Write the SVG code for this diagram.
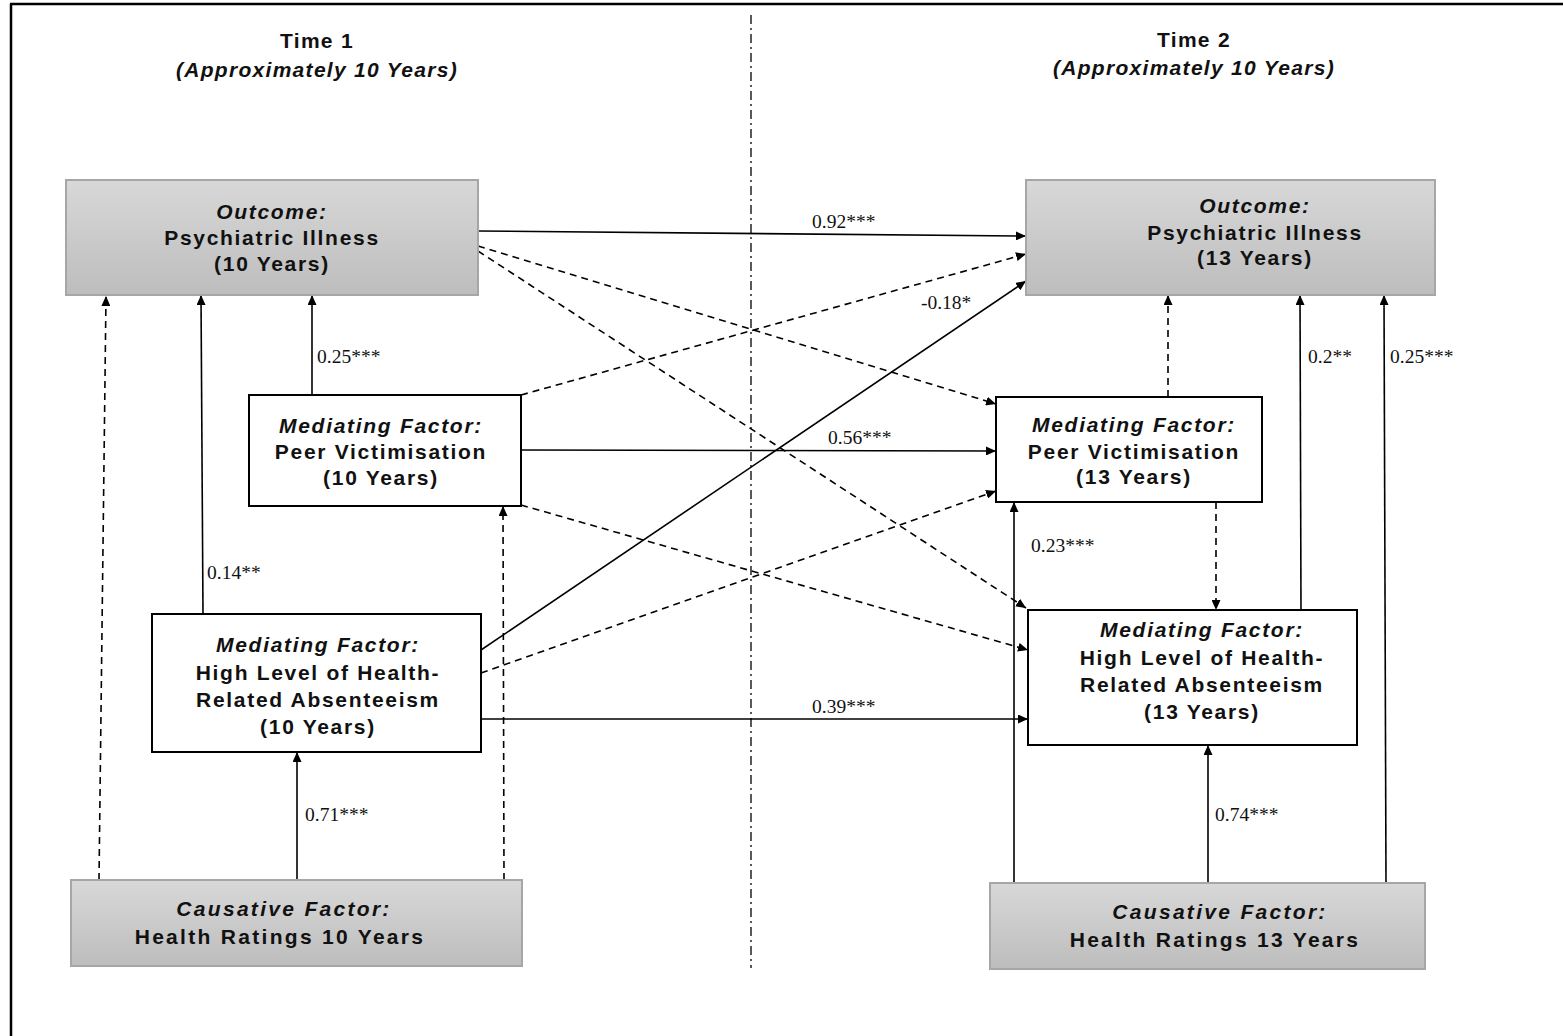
<svg xmlns="http://www.w3.org/2000/svg" width="1563" height="1036" viewBox="0 0 1563 1036">
<defs>
<linearGradient id="gray" x1="0" y1="0" x2="0" y2="1">
<stop offset="0" stop-color="#d8d8d8"/>
<stop offset="1" stop-color="#bdbdbd"/>
</linearGradient>
<marker id="arr" markerUnits="userSpaceOnUse" markerWidth="11" markerHeight="9" refX="10" refY="4.5" orient="auto">
<path d="M0,0 L10,4.5 L0,9 z" fill="#000"/>
</marker>
</defs>
<style>
.gbox{fill:url(#gray);stroke:#a6a6a6;stroke-width:2}
.wbox{fill:#fff;stroke:#000;stroke-width:2}
.t{font-family:"Liberation Sans",Arial,sans-serif;font-weight:bold;font-size:21px;letter-spacing:1.7px;fill:#111;text-anchor:middle}
.h{letter-spacing:1.3px}
.c{letter-spacing:2.3px}
.i{font-style:italic}
.lab{font-family:"Liberation Serif","Times New Roman",serif;font-size:19.5px;fill:#111}
.s{stroke:#000;stroke-width:1.6;fill:none;marker-end:url(#arr)}
.d{stroke:#000;stroke-width:1.6;fill:none;stroke-dasharray:7 5;marker-end:url(#arr)}
</style>
<rect width="1563" height="1036" fill="#fff"/>
<path d="M10,4 H1563 M11,4 V1036" stroke="#000" stroke-width="2.5" fill="none"/>
<line x1="751" y1="15" x2="751" y2="968" stroke="#000" stroke-width="1.3" stroke-dasharray="9 4 2 4"/>
<g id="headers">
<text class="t h" x="317" y="48">Time 1</text>
<text class="t h i" x="317" y="77">(Approximately 10 Years)</text>
<text class="t h" x="1194" y="47">Time 2</text>
<text class="t h i" x="1194" y="75">(Approximately 10 Years)</text>
</g>
<g id="connectors">
<path class="s" d="M478,231 L1026,236"/>
<path class="d" d="M478,246 L996,404"/>
<path class="d" d="M478,251 L1026,608"/>
<path class="d" d="M521,395 L1026,254"/>
<path class="s" d="M521,450 L996,451"/>
<path class="d" d="M521,505 L1028,650"/>
<path class="s" d="M481,650 L1026,281"/>
<path class="d" d="M481,673 L996,491"/>
<path class="s" d="M481,719 L1028,719"/>
<path class="s" d="M312,395 L312,295"/>
<path class="s" d="M203,614 L201,295"/>
<path class="d" d="M99,880 L106,296"/>
<path class="s" d="M297,880 L297,752"/>
<path class="d" d="M504,880 L503,506"/>
<path class="d" d="M1168,397 L1168,295"/>
<path class="d" d="M1216,502 L1216,610"/>
<path class="s" d="M1301,610 L1300,295"/>
<path class="s" d="M1386,883 L1384,295"/>
<path class="s" d="M1208,883 L1208,745"/>
<path class="s" d="M1014,883 L1014,502"/>
<text class="lab" x="812" y="228">0.92***</text>
<text class="lab" x="921" y="309">-0.18*</text>
<text class="lab" x="828" y="444">0.56***</text>
<text class="lab" x="812" y="713">0.39***</text>
<text class="lab" x="317" y="363">0.25***</text>
<text class="lab" x="207" y="579">0.14**</text>
<text class="lab" x="305" y="821">0.71***</text>
<text class="lab" x="1031" y="552">0.23***</text>
<text class="lab" x="1215" y="821">0.74***</text>
<text class="lab" x="1308" y="363">0.2**</text>
<text class="lab" x="1390" y="363">0.25***</text>
</g>
<g id="outcome10">
<rect class="gbox" x="66" y="180" width="412" height="115"/>
<text class="t i" x="272" y="219">Outcome:</text>
<text class="t" x="272" y="245">Psychiatric Illness</text>
<text class="t" x="272" y="271">(10 Years)</text>
</g>
<g id="outcome13">
<rect class="gbox" x="1026" y="180" width="409" height="115"/>
<text class="t i" x="1255" y="213">Outcome:</text>
<text class="t" x="1255" y="240">Psychiatric Illness</text>
<text class="t" x="1255" y="265">(13 Years)</text>
</g>
<g id="peer10">
<rect class="wbox" x="249" y="395" width="272" height="111"/>
<text class="t i" x="381" y="433">Mediating Factor:</text>
<text class="t" x="381" y="459">Peer Victimisation</text>
<text class="t" x="381" y="485">(10 Years)</text>
</g>
<g id="peer13">
<rect class="wbox" x="996" y="397" width="266" height="105"/>
<text class="t i" x="1134" y="432">Mediating Factor:</text>
<text class="t" x="1134" y="459">Peer Victimisation</text>
<text class="t" x="1134" y="484">(13 Years)</text>
</g>
<g id="absent10">
<rect class="wbox" x="152" y="614" width="329" height="138"/>
<text class="t i" x="318" y="652">Mediating Factor:</text>
<text class="t" x="318" y="680">High Level of Health-</text>
<text class="t" x="318" y="707">Related Absenteeism</text>
<text class="t" x="318" y="734">(10 Years)</text>
</g>
<g id="absent13">
<rect class="wbox" x="1028" y="610" width="329" height="135"/>
<text class="t i" x="1202" y="637">Mediating Factor:</text>
<text class="t" x="1202" y="665">High Level of Health-</text>
<text class="t" x="1202" y="692">Related Absenteeism</text>
<text class="t" x="1202" y="719">(13 Years)</text>
</g>
<g id="causative10">
<rect class="gbox" x="71" y="880" width="451" height="86"/>
<text class="t c i" x="284" y="916">Causative Factor:</text>
<text class="t c" x="280" y="944">Health Ratings 10 Years</text>
</g>
<g id="causative13">
<rect class="gbox" x="990" y="883" width="435" height="86"/>
<text class="t c i" x="1220" y="919">Causative Factor:</text>
<text class="t c" x="1215" y="947">Health Ratings 13 Years</text>
</g>
</svg>
